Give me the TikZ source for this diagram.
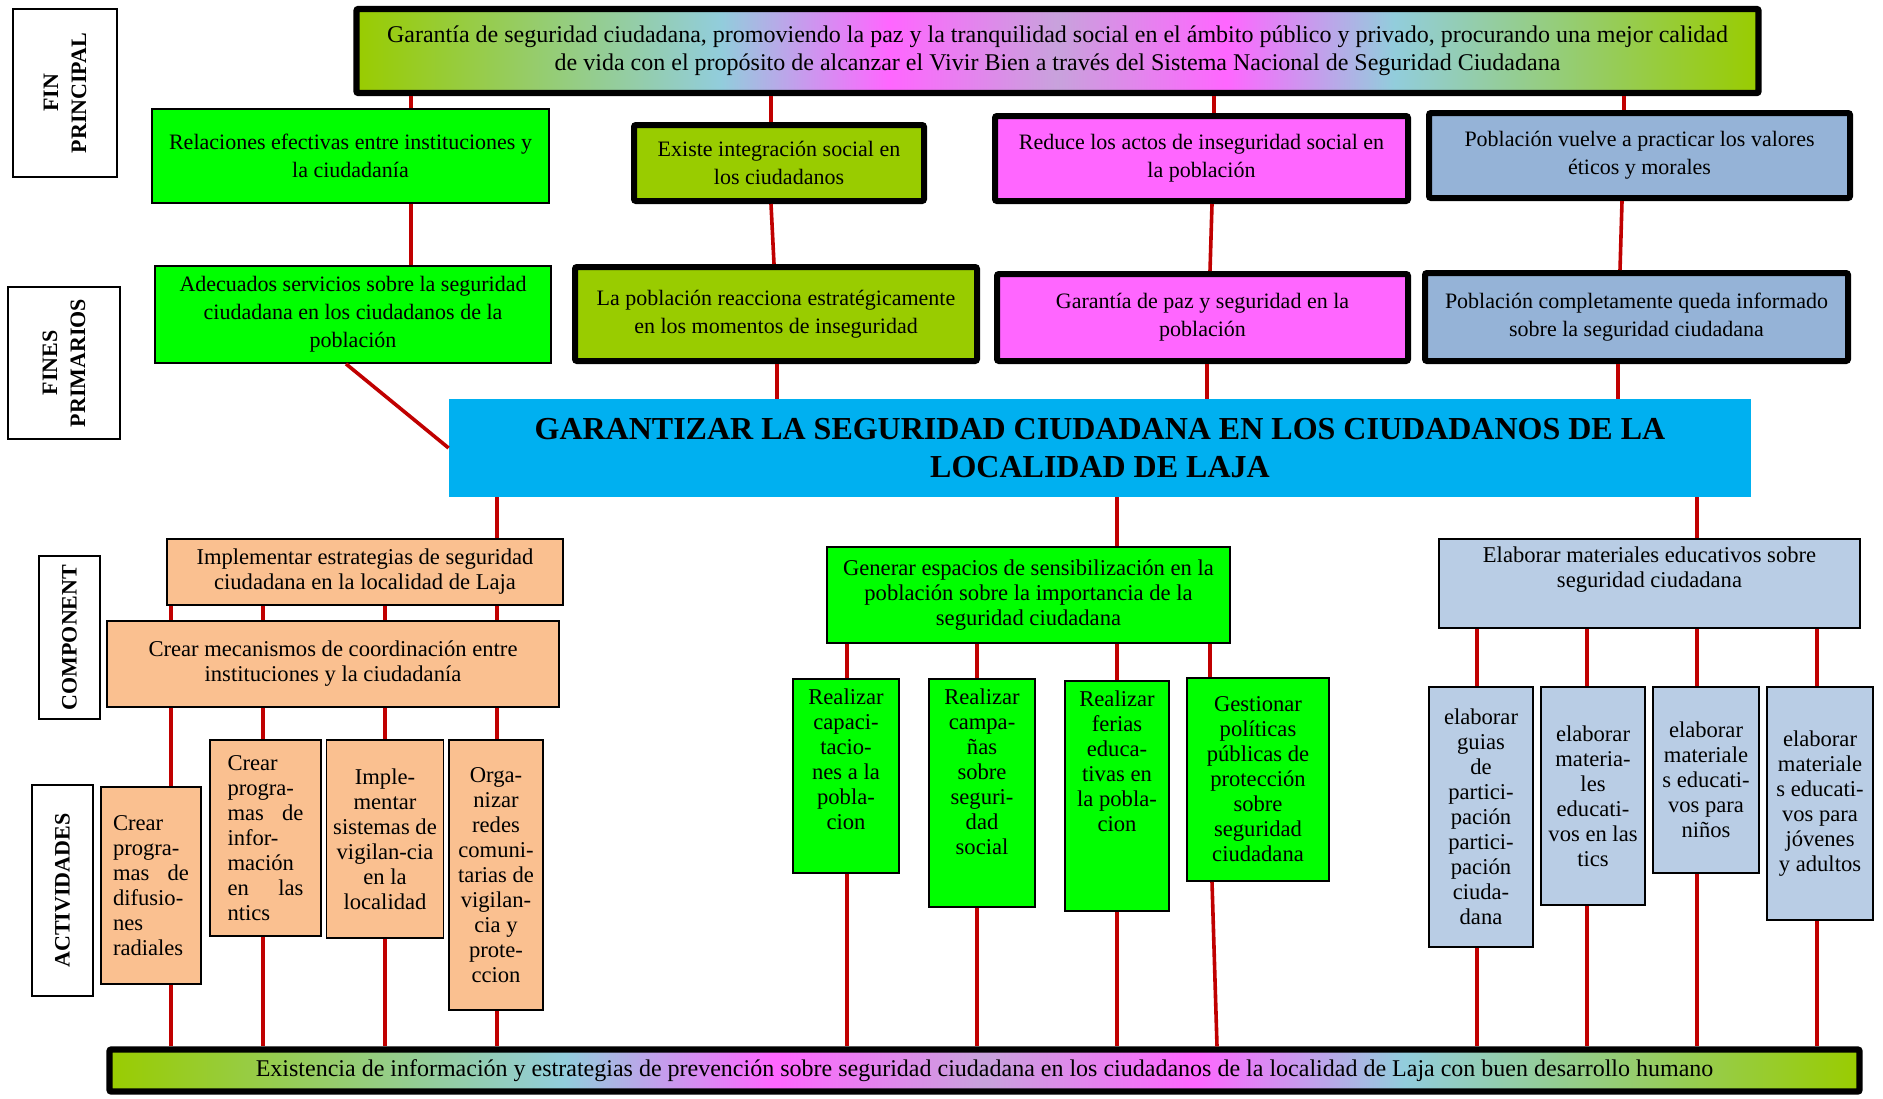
\documentclass[tikz,border=0pt]{standalone}
\usepackage{fontspec}
\setmainfont{Liberation Serif}
\usetikzlibrary{positioning}

\definecolor{linkred}{HTML}{C00000}
\definecolor{boxgreen}{HTML}{00FF00}
\definecolor{boxolive}{HTML}{99CC00}
\definecolor{boxpink}{HTML}{FF66FF}
\definecolor{boxsteel}{HTML}{95B3D7}
\definecolor{boxpale}{HTML}{B9CDE5}
\definecolor{boxpeach}{HTML}{FAC090}
\definecolor{goalcyan}{HTML}{00B0F0}
\definecolor{bandaqua}{HTML}{92CDDC}
\definecolor{bandlilac}{HTML}{C8A2DC}

\pgfdeclarehorizontalshading{rainbowband}{100bp}{color(0bp)=(boxolive); color(25bp)=(boxolive); color(38bp)=(bandaqua); color(44bp)=(boxpink); color(50bp)=(bandlilac); color(56bp)=(boxpink); color(62bp)=(bandaqua); color(75bp)=(boxolive); color(100bp)=(boxolive)}

\begin{document}
\begin{tikzpicture}[x=0.5pt, y=-0.5pt,
    tag/.style={draw, line width=1.1pt, rotate=90, align=center, font=\fontsize{11}{14}\selectfont\bfseries},
    banner/.style={draw, line width=3.2pt, rounded corners=1pt, shading=rainbowband, align=center, font=\fontsize{12}{14}\selectfont},
    upthin/.style={draw, line width=0.9pt, align=center, font=\fontsize{11}{14}\selectfont},
    upthick/.style={draw, line width=3pt, rounded corners=1pt, align=center, font=\fontsize{11}{14}\selectfont},
    lowbox/.style={draw, line width=0.9pt, align=center, font=\fontsize{11.3}{12.5}\selectfont},
    boxtext/.style={align=center, font=\fontsize{11.3}{12.5}\selectfont},
    link/.style={draw=linkred, line width=1.8pt}]
    \useasboundingbox (0,0) rectangle (1883,1098);

    % row labels
    \node (finlbl) at (65,93) [tag, minimum width=84pt, minimum height=52pt] {FIN\\PRINCIPAL};
    \node (primlbl) at (64,363) [tag, minimum width=76pt, minimum height=56pt] {FINES\\PRIMARIOS};
    \node (complbl) at (69.5,637.5) [tag, minimum width=81.5pt, minimum height=30.5pt] {COMPONENT};
    \node (actlbl) at (62.5,890.5) [tag, minimum width=105.5pt, minimum height=30.5pt] {ACTIVIDADES};

    % fin principal
    \node (fin) at (1057.5,51) [banner, minimum width=701pt, minimum height=42pt] {Garantía de  seguridad ciudadana, promoviendo la paz y la tranquilidad social en el ámbito público y privado, procurando una mejor calidad\\de vida con el propósito de alcanzar el Vivir Bien a través del Sistema Nacional de Seguridad  Ciudadana};

    % fines
    \node (rel) at (350.5,156) [upthin, fill=boxgreen, minimum width=198.5pt, minimum height=47pt] {Relaciones  efectivas entre instituciones y\\la ciudadanía};
    \node (exi) at (779,163) [upthick, fill=boxolive, minimum width=145pt, minimum height=38pt] {Existe  integración social en\\los ciudadanos};
    \node (red) at (1201.5,158.5) [upthick, fill=boxpink, minimum width=206.5pt, minimum height=42.5pt] {Reduce  los actos de inseguridad social en\\la población};
    \node (pvue) at (1639.5,155.5) [upthick, fill=boxsteel, minimum width=210.5pt, minimum height=42.5pt] {Población  vuelve a practicar los valores\\éticos y morales};
    \node (adec) at (353,314.5) [upthin, fill=boxgreen, minimum width=198pt, minimum height=48.5pt] {Adecuados  servicios sobre la seguridad\\ciudadana  en los ciudadanos de la\\población};
    \node (reac) at (776,314) [upthick, fill=boxolive, minimum width=201pt, minimum height=47pt] {La  población reacciona estratégicamente\\en los momentos de inseguridad};
    \node (gpaz) at (1202.5,317.5) [upthick, fill=boxpink, minimum width=205.5pt, minimum height=43.5pt] {Garantía  de paz y seguridad en la\\población};
    \node (pcom) at (1636.5,317) [upthick, fill=boxsteel, minimum width=211.5pt, minimum height=44pt] {Población  completamente queda informado\\sobre la seguridad ciudadana};

    % proposito
    \node (goal) at (1100,448) [fill=goalcyan, align=center, minimum width=651pt, minimum height=49pt, font=\fontsize{16}{19}\selectfont\bfseries] {GARANTIZAR  LA  SEGURIDAD CIUDADANA  EN LOS CIUDADANOS DE LA\\LOCALIDAD  DE LAJA};

    % componentes
    \node (impl) at (365,572) [lowbox, fill=boxpeach, minimum width=198pt, minimum height=33pt] {Implementar estrategias de  seguridad\\ciudadana en la localidad  de Laja};
    \node (crear) at (333,664) [lowbox, fill=boxpeach, minimum width=226pt, minimum height=43pt] {Crear  mecanismos de coordinación entre\\instituciones y la ciudadanía};
    \node (gen) at (1028.5,595) [lowbox, fill=boxgreen, minimum width=201.5pt, minimum height=48pt] {Generar espacios  de sensibilización en la\\población  sobre la importancia de la\\seguridad ciudadana};
    \node (elab) at (1649.5,583.5) [lowbox, fill=boxpale, minimum width=210.5pt, minimum height=44.5pt] {};
    \node (elabtxt) [boxtext, below=1pt of elab.north] {Elaborar materiales educativos sobre\\seguridad ciudadana};

    % actividades
    \node (acta) at (151,885.5) [lowbox, fill=boxpeach, minimum width=50pt, minimum height=98.5pt, text width=38pt, align=left] {Crear\\progra-\\mas \hfill de\\difusio-\\nes\\radiales};
    \node (actb) at (265.5,838) [lowbox, fill=boxpeach, minimum width=55.5pt, minimum height=98pt, text width=38pt, align=left] {Crear\\progra-\\mas \hfill de\\infor-\\mación\\en \hfill las\\ntics};
    \node (actc) at (385,839) [lowbox, fill=boxpeach, minimum width=56pt, minimum height=99pt] {Imple-\\mentar\\sistemas de\\vigilan-cia\\en la\\localidad};
    \node (actd) at (496,875) [lowbox, fill=boxpeach, minimum width=47pt, minimum height=135pt] {Orga-\\nizar\\redes\\comuni-\\tarias de\\vigilan-\\cia y\\prote-\\ccion};
    \node (acte) at (846,776) [lowbox, fill=boxgreen, minimum width=53pt, minimum height=97pt] {};
    \node (actetxt) [boxtext, below=2pt of acte.north] {Realizar\\capaci-\\tacio-\\nes a la\\pobla-\\cion};
    \node (actf) at (982,793) [lowbox, fill=boxgreen, minimum width=53pt, minimum height=114pt] {};
    \node (actftxt) [boxtext, below=2pt of actf.north] {Realizar\\campa-\\ñas\\sobre\\seguri-\\dad\\social};
    \node (actg) at (1117,796) [lowbox, fill=boxgreen, minimum width=52pt, minimum height=115pt] {};
    \node (actgtxt) [boxtext, below=2pt of actg.north] {Realizar\\ferias\\educa-\\tivas en\\la pobla-\\cion};
    \node (acth) at (1258,779.5) [lowbox, fill=boxgreen, minimum width=71pt, minimum height=101.5pt] {Gestionar\\políticas\\públicas de\\protección\\sobre\\seguridad\\ciudadana};
    \node (acti) at (1481,817) [lowbox, fill=boxpale, minimum width=52pt, minimum height=130pt] {elaborar\\guias\\de\\partici-\\pación\\partici-\\pación\\ciuda-\\dana};
    \node (actj) at (1593,796) [lowbox, fill=boxpale, minimum width=52pt, minimum height=109pt] {elaborar\\materia-\\les\\educati-\\vos en las\\tics};
    \node (actk) at (1706,780) [lowbox, fill=boxpale, minimum width=53pt, minimum height=93pt] {elaborar\\materiale\\s educati-\\vos para\\niños};
    \node (actl) at (1820,803.5) [lowbox, fill=boxpale, minimum width=53pt, minimum height=116.5pt] {elaborar\\materiale\\s educati-\\vos para\\jóvenes\\y adultos};

    % resultado
    \node (base) at (984.5,1070.5) [banner, minimum width=875pt, minimum height=21pt] {Existencia de  información  y  estrategias de prevención  sobre seguridad  ciudadana  en los ciudadanos de  la localidad  de Laja con buen desarrollo humano};

    % upper connectors
    \draw[link] (fin.south -| 411,0) -- (rel.north -| 411,0);
    \draw[link] (rel.south -| 411,0) -- (adec.north -| 411,0);
    \draw[link] (adec.south -| 346,0) -- (goal.west);
    \draw[link] (fin.south -| 771,0) -- (exi.north -| 771,0);
    \draw[link] (exi.south -| 771,0) -- (reac.north -| 774,0);
    \draw[link] (reac.south -| 777,0) -- (goal.north -| 777,0);
    \draw[link] (fin.south -| 1214,0) -- (red.north -| 1214,0);
    \draw[link] (red.south -| 1212,0) -- (gpaz.north -| 1210,0);
    \draw[link] (gpaz.south -| 1207,0) -- (goal.north -| 1207,0);
    \draw[link] (fin.south -| 1624,0) -- (pvue.north -| 1624,0);
    \draw[link] (pvue.south -| 1622,0) -- (pcom.north -| 1620,0);
    \draw[link] (pcom.south -| 1618,0) -- (goal.north -| 1618,0);

    % lower connectors
    \draw[link] (goal.south -| 497,0) -- (impl.north -| 497,0);
    \draw[link] (goal.south -| 1117,0) -- (gen.north -| 1117,0);
    \draw[link] (goal.south -| 1697,0) -- (elab.north -| 1697,0);
    \draw[link] (impl.south -| 171,0) -- (crear.north -| 171,0);
    \draw[link] (impl.south -| 263,0) -- (crear.north -| 263,0);
    \draw[link] (impl.south -| 385,0) -- (crear.north -| 385,0);
    \draw[link] (impl.south -| 497,0) -- (crear.north -| 497,0);
    \draw[link] (crear.south -| 171,0) -- (acta.north -| 171,0);
    \draw[link] (crear.south -| 263,0) -- (actb.north -| 263,0);
    \draw[link] (crear.south -| 385,0) -- (actc.north -| 385,0);
    \draw[link] (crear.south -| 497,0) -- (actd.north -| 497,0);
    \draw[link] (gen.south -| 847,0) -- (acte.north -| 847,0);
    \draw[link] (gen.south -| 977,0) -- (actf.north -| 977,0);
    \draw[link] (gen.south -| 1117,0) -- (actg.north -| 1117,0);
    \draw[link] (gen.south -| 1210,0) -- (acth.north -| 1210,0);
    \draw[link] (elab.south -| 1477,0) -- (acti.north -| 1477,0);
    \draw[link] (elab.south -| 1587,0) -- (actj.north -| 1587,0);
    \draw[link] (elab.south -| 1697,0) -- (actk.north -| 1697,0);
    \draw[link] (elab.south -| 1817,0) -- (actl.north -| 1817,0);
    \draw[link] (acta.south -| 171,0) -- (base.north -| 171,0);
    \draw[link] (actb.south -| 263,0) -- (base.north -| 263,0);
    \draw[link] (actc.south -| 385,0) -- (base.north -| 385,0);
    \draw[link] (actd.south -| 497,0) -- (base.north -| 497,0);
    \draw[link] (acte.south -| 847,0) -- (base.north -| 847,0);
    \draw[link] (actf.south -| 977,0) -- (base.north -| 977,0);
    \draw[link] (actg.south -| 1117,0) -- (base.north -| 1117,0);
    \draw[link] (acth.south -| 1212,0) -- (base.north -| 1217,0);
    \draw[link] (acti.south -| 1477,0) -- (base.north -| 1477,0);
    \draw[link] (actj.south -| 1587,0) -- (base.north -| 1587,0);
    \draw[link] (actk.south -| 1697,0) -- (base.north -| 1697,0);
    \draw[link] (actl.south -| 1817,0) -- (base.north -| 1817,0);
\end{tikzpicture}
\end{document}
